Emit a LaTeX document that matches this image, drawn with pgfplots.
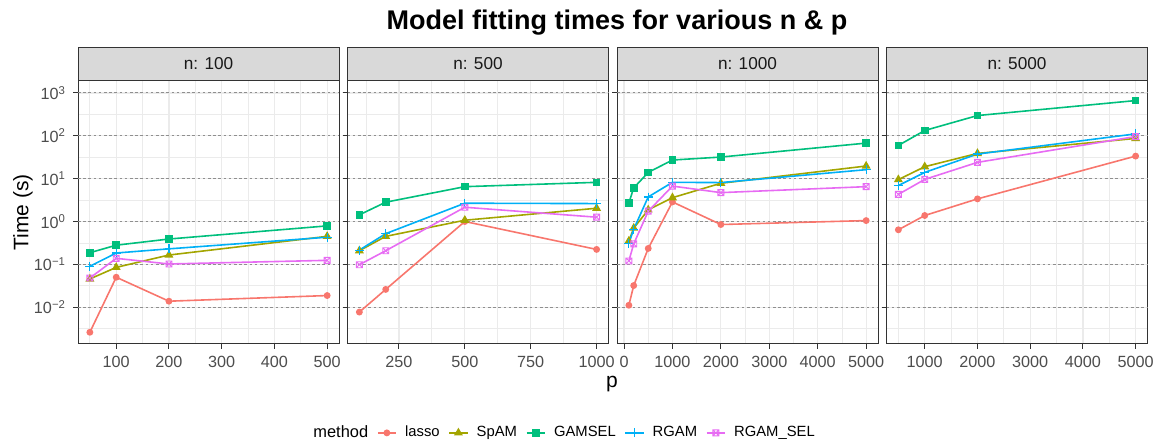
\documentclass[border=0pt]{standalone}
\usepackage{fontspec}
\setmainfont{Liberation Sans}
\usepackage{pgfplots}
\pgfplotsset{compat=1.18}
\definecolor{classo}{HTML}{F8766D}
\definecolor{cspam}{HTML}{A3A500}
\definecolor{cgamsel}{HTML}{00BF7D}
\definecolor{crgam}{HTML}{00B0F6}
\definecolor{crgamsel}{HTML}{E76BF3}
\definecolor{border}{HTML}{333333}
\definecolor{stripbg}{HTML}{D9D9D9}
\definecolor{gridc}{HTML}{EBEBEB}
\definecolor{ticklab}{HTML}{4D4D4D}
\definecolor{dashc}{HTML}{8F8F8F}
\pgfdeclareplotmark{sqx}{%
  \pgfpathrectangle{\pgfqpoint{-\pgfplotmarksize}{-\pgfplotmarksize}}{\pgfqpoint{2\pgfplotmarksize}{2\pgfplotmarksize}}%
  \pgfpathmoveto{\pgfqpoint{-\pgfplotmarksize}{-\pgfplotmarksize}}\pgfpathlineto{\pgfqpoint{\pgfplotmarksize}{\pgfplotmarksize}}%
  \pgfpathmoveto{\pgfqpoint{-\pgfplotmarksize}{\pgfplotmarksize}}\pgfpathlineto{\pgfqpoint{\pgfplotmarksize}{-\pgfplotmarksize}}%
  \pgfusepathqstroke}
\tikzset{
  plasso/.style={classo, line width=0.8pt, mark=*, mark size=1.3pt, mark options={solid}},
  pspam/.style={cspam, line width=0.8pt, mark=triangle*, mark size=1.8pt, mark options={solid}},
  pgamsel/.style={cgamsel, line width=0.8pt, mark=square*, mark size=1.5pt, mark options={solid}},
  prgam/.style={crgam, line width=0.8pt, mark=+, mark size=2.2pt, mark options={solid, line width=0.6pt}},
  prgamsel/.style={crgamsel, line width=0.8pt, mark=sqx, mark size=1.5pt, mark options={solid, line width=0.45pt}},
}
\pgfplotsset{
    scale only axis, width=130.5pt, height=131.5pt,
    ymin=0.001384, ymax=1901,
    ytick={0.01,0.1,1,10,100,1000},
    minor ytick={0.003162,0.03162,0.3162,3.162,31.62,316.2},
    xmajorgrids, xminorgrids, ymajorgrids, yminorgrids,
    major grid style={gridc, line width=0.6pt},
    minor grid style={gridc, line width=0.4pt},
    tick align=outside, tick pos=left,
    major tick length=2.5pt, minor tick length=0pt,
    tick style={border, line width=0.5pt},
    axis line style={border, line width=0.5pt},
    scaled x ticks=false,
    ticklabel style={font=\fontsize{8.1}{10}\selectfont, text=ticklab},
    every axis title shift=0pt,
    title style={at={(0.5,1)}, anchor=south, yshift=0pt, fill=stripbg, draw=border, line width=0.5pt,
      minimum width=130.5pt, minimum height=16.6pt, inner sep=0pt,
      font=\fontsize{8.6}{10}\selectfont, text=black!90},
    legend image code/.code={\draw[mark repeat=2,mark phase=2] plot coordinates {(0cm,0cm) (0.16cm,0cm) (0.32cm,0cm)};},
}
\begin{document}
\begin{tikzpicture}
\useasboundingbox (0,0) rectangle (578.5pt,221.5pt);
% panel 1
\begin{axis}[ymode=log, anchor=south west, at={(39pt,49.5pt)}, title={n: 100},
  extra y ticks={0.01,0.1,1,10,100,1000}, extra y tick labels={},
  extra y tick style={grid=major, major grid style={dashc, dash pattern=on 1.3pt off 1.3pt, line width=0.5pt}},
  /pgf/number format/assume math mode=true, /pgf/number format/1000 sep={},
  xmin=27.5, xmax=522.5, xtick={100,200,300,400,500},
  minor xtick={50,150,250,350,450},
  yticklabels={10\textsuperscript{−2},10\textsuperscript{−1},10\textsuperscript{0},10\textsuperscript{1},10\textsuperscript{2},10\textsuperscript{3}},
  legend columns=-1,
  legend style={at={(axis description cs:1.854,-0.338)}, anchor=center, draw=none, fill=none,
    font=\fontsize{7.4}{9}\selectfont, inner sep=0pt,
    /tikz/every odd column/.append style={column sep=2.2pt},
    /tikz/every even column/.append style={column sep=2.4pt}},
  legend cell align=left]
\addlegendimage{empty legend}\addlegendentry{\fontsize{8.2}{9}\selectfont method}
\addplot[plasso] coordinates {(50,0.0026) (100,0.050) (200,0.0138) (500,0.0187)};
\addlegendentry{lasso}
\addplot[pspam] coordinates {(50,0.0456) (100,0.085) (200,0.165) (500,0.45)};
\addlegendentry{SpAM}
\addplot[pgamsel] coordinates {(50,0.187) (100,0.28) (200,0.39) (500,0.79)};
\addlegendentry{GAMSEL}
\addplot[prgam] coordinates {(50,0.09) (100,0.184) (200,0.23) (500,0.43)};
\addlegendentry{RGAM}
\addplot[prgamsel] coordinates {(50,0.048) (100,0.138) (200,0.102) (500,0.124)};
\addlegendentry{RGAM\_SEL}
\end{axis}
% panel 2
\begin{axis}[ymode=log, anchor=south west, at={(173.75pt,49.5pt)}, title={n: 500},
  extra y ticks={0.01,0.1,1,10,100,1000}, extra y tick labels={},
  extra y tick style={grid=major, major grid style={dashc, dash pattern=on 1.3pt off 1.3pt, line width=0.5pt}},
  /pgf/number format/assume math mode=true, /pgf/number format/1000 sep={},
  xmin=55, xmax=1045, xtick={250,500,750,1000},
  minor xtick={125,375,625,875}, yticklabels={}]
\addplot[plasso] coordinates {(100,0.0077) (200,0.026) (500,1.0) (1000,0.223)};
\addplot[pspam] coordinates {(100,0.208) (200,0.45) (500,1.07) (1000,2.04)};
\addplot[pgamsel] coordinates {(100,1.43) (200,2.82) (500,6.5) (1000,8.2)};
\addplot[prgam] coordinates {(100,0.215) (200,0.52) (500,2.67) (1000,2.62)};
\addplot[prgamsel] coordinates {(100,0.098) (200,0.208) (500,2.15) (1000,1.26)};
\end{axis}
% panel 3
\begin{axis}[ymode=log, anchor=south west, at={(308.5pt,49.5pt)}, title={n: 1000},
  extra y ticks={0.01,0.1,1,10,100,1000}, extra y tick labels={},
  extra y tick style={grid=major, major grid style={dashc, dash pattern=on 1.3pt off 1.3pt, line width=0.5pt}},
  /pgf/number format/assume math mode=true, /pgf/number format/1000 sep={},
  xmin=-145, xmax=5245, xtick={0,1000,2000,3000,4000,5000},
  minor xtick={500,1500,2500,3500,4500}, yticklabels={}]
\addplot[plasso] coordinates {(100,0.0111) (200,0.032) (500,0.235) (1000,2.86) (2000,0.85) (5000,1.05)};
\addplot[pspam] coordinates {(100,0.35) (200,0.70) (500,1.87) (1000,3.6) (2000,7.8) (5000,19.7)};
\addplot[pgamsel] coordinates {(100,2.72) (200,6.07) (500,14.0) (1000,27.2) (2000,31.9) (5000,67.5)};
\addplot[prgam] coordinates {(100,0.31) (200,0.66) (500,3.75) (1000,8.2) (2000,8.1) (5000,16.2)};
\addplot[prgamsel] coordinates {(100,0.12) (200,0.30) (500,1.74) (1000,6.7) (2000,4.72) (5000,6.5)};
\end{axis}
% panel 4
\begin{axis}[ymode=log, anchor=south west, at={(443.25pt,49.5pt)}, title={n: 5000},
  extra y ticks={0.01,0.1,1,10,100,1000}, extra y tick labels={},
  extra y tick style={grid=major, major grid style={dashc, dash pattern=on 1.3pt off 1.3pt, line width=0.5pt}},
  /pgf/number format/assume math mode=true, /pgf/number format/1000 sep={},
  xmin=275, xmax=5225, xtick={1000,2000,3000,4000,5000},
  minor xtick={500,1500,2500,3500,4500}, yticklabels={}]
\addplot[plasso] coordinates {(500,0.64) (1000,1.38) (2000,3.37) (5000,33.6)};
\addplot[pspam] coordinates {(500,9.5) (1000,19.0) (2000,38.8) (5000,86.8)};
\addplot[pgamsel] coordinates {(500,59.6) (1000,133) (2000,297) (5000,664)};
\addplot[prgam] coordinates {(500,6.9) (1000,14.0) (2000,37.5) (5000,111)};
\addplot[prgamsel] coordinates {(500,4.3) (1000,9.6) (2000,24) (5000,96)};
\end{axis}
\node[anchor=base, font=\fontsize{13.5}{16}\selectfont\bfseries] at (308.5pt,206.85pt) {Model fitting times for various n \& p};
\node[rotate=90, anchor=center, font=\fontsize{10.5}{12}\selectfont] at (11.5pt,115.25pt) {Time (s)};
\node[anchor=base, font=\fontsize{10.5}{12}\selectfont] at (306pt,27.7pt) {p};
\end{tikzpicture}
\end{document}
